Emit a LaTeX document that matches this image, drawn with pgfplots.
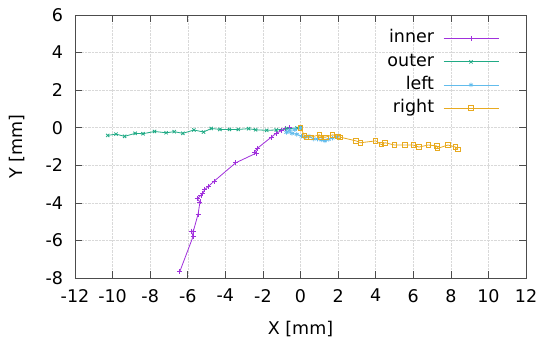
\documentclass[border=0pt]{standalone}
\usepackage{fontspec}
\setmainfont{DejaVu Sans}
\usepackage{pgfplots}
\pgfplotsset{compat=1.18}
\definecolor{cinner}{HTML}{A030DC}
\definecolor{couter}{HTML}{20AA85}
\definecolor{cleft}{HTML}{62BCEC}
\definecolor{cright}{HTML}{E8AA20}
\begin{document}
\fontsize{17.5}{20}\selectfont
\begin{tikzpicture}
\begin{axis}[
  scale only axis, width=451pt, height=263pt,
  xmin=-12, xmax=12, ymin=-8, ymax=6,
  xtick={-12,-10,...,12}, ytick={-8,-6,...,6},
  tick align=inside, major tick length=7pt,
  tick style={gray!60!black, line width=0.6pt},
  grid=major, grid style={densely dotted, gray!30, line width=0.5pt},
  axis line style={gray!60!black, line width=0.6pt},
  /pgf/number format/assume math mode=true,
  xticklabel style={yshift=-5pt},
  yticklabel style={xshift=-6pt},
  xlabel={X [mm]}, ylabel={Y [mm]},
  every axis x label/.style={at={(axis description cs:0.5,-0.194)}, anchor=center},
  every axis y label/.style={at={(axis description cs:-0.1286,0.5)}, rotate=90, anchor=center},
  legend plot pos=right, legend cell align=right,
  legend style={draw=none, fill=none, at={(axis description cs:0.947,0.962)}, anchor=north east,
    column sep=7pt, row sep=0pt,
    nodes={text height=12.5pt, text depth=4pt, inner ysep=3.3pt}},
  legend image code/.code={\draw[mark repeat=2, mark phase=2] plot coordinates {(0pt,0pt) (27.5pt,0pt) (55pt,0pt)};},
  every axis plot/.append style={line width=0.8pt},
]
\addplot[cinner, mark=+, mark size=2.5pt] coordinates {
(-0.6,0) (-0.8,-0.05) (-1.0,-0.15) (-1.3,-0.3) (-1.55,-0.5) (-2.3,-1.1) (-2.45,-1.3)
(-2.35,-1.35) (-3.45,-1.87) (-4.6,-2.85) (-4.9,-3.12) (-5.1,-3.3) (-5.2,-3.5) (-5.3,-3.6)
(-5.5,-3.78) (-5.35,-3.95) (-5.45,-4.6) (-5.7,-5.5) (-5.8,-5.5) (-5.72,-5.8) (-6.42,-7.65)};
\addlegendentry{inner}
\addplot[couter, mark=x, mark size=2.3pt] coordinates {
(0,0) (-0.18,-0.02) (-0.74,-0.05) (-1.29,-0.12) (-1.8,-0.14) (-2.39,-0.11) (-2.76,-0.05)
(-3.31,-0.09) (-3.78,-0.09) (-4.29,-0.09) (-4.75,-0.04) (-5.16,-0.23) (-5.67,-0.12)
(-6.26,-0.3) (-6.72,-0.21) (-7.15,-0.27) (-7.77,-0.2) (-8.38,-0.32) (-8.8,-0.3)
(-9.36,-0.46) (-9.82,-0.34) (-10.26,-0.41)};
\addlegendentry{outer}
\addplot[cleft, mark=asterisk, mark size=2.3pt] coordinates {
(0,0) (-0.3,-0.1) (-0.6,-0.15) (-0.75,-0.25) (-0.45,-0.3) (-0.2,-0.35) (0.05,-0.45)
(0.25,-0.5) (0.45,-0.45) (0.7,-0.6) (0.9,-0.6) (1.1,-0.65) (1.3,-0.7) (1.5,-0.62)
(1.7,-0.55) (1.95,-0.5)};
\addlegendentry{left}
\addplot[cright, mark=square, mark size=2.2pt] coordinates {
(0,0) (0.2,-0.4) (0.3,-0.5) (0.55,-0.5) (1.0,-0.38) (1.05,-0.5) (1.35,-0.5) (1.7,-0.38)
(2.0,-0.45) (2.1,-0.5) (2.95,-0.7) (3.2,-0.8) (4.0,-0.7) (4.3,-0.9) (4.5,-0.8) (5.0,-0.92)
(5.55,-0.92) (6.0,-0.92) (6.3,-1.03) (6.8,-0.92) (7.25,-0.97) (7.3,-1.1) (7.85,-0.92)
(8.25,-1.03) (8.38,-1.15)};
\addlegendentry{right}
\end{axis}
\pgfresetboundingbox
\path[use as bounding box] (-75pt,-69pt) rectangle (468pt,278pt);
\end{tikzpicture}
\end{document}
